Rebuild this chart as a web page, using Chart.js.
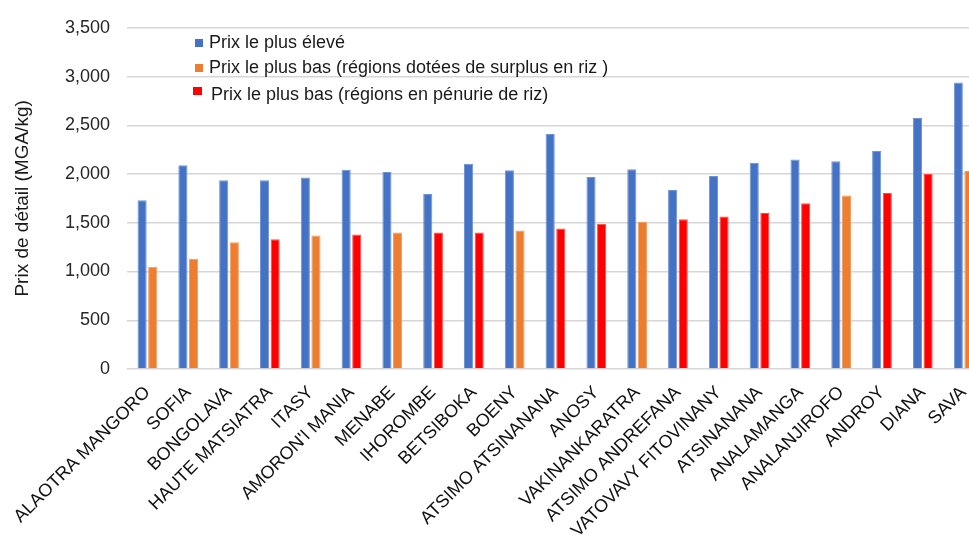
<!DOCTYPE html>
<html lang="fr">
<head>
<meta charset="utf-8">
<title>Prix de détail du riz par région</title>
<script src="https://cdn.jsdelivr.net/npm/chart.js@4.4.1/dist/chart.umd.min.js"></script>
<style>
  html, body { margin: 0; padding: 0; background: #ffffff; overflow: hidden; }
  #wrap { width: 1000px; height: 542px; }
</style>
</head>
<body>
<div id="wrap"><canvas id="c" width="1000" height="542"></canvas></div>
<script>
// Régions, classées par prix le plus bas croissant
const regions = [
  'ALAOTRA MANGORO', 'SOFIA', 'BONGOLAVA', 'HAUTE MATSIATRA', 'ITASY',
  "AMORON'I MANIA", 'MENABE', 'IHOROMBE', 'BETSIBOKA', 'BOENY',
  'ATSIMO ATSINANANA', 'ANOSY', 'VAKINANKARATRA', 'ATSIMO ANDREFANA',
  'VATOVAVY FITOVINANY', 'ATSINANANA', 'ANALAMANGA', 'ANALANJIROFO',
  'ANDROY', 'DIANA', 'SAVA'
];

// Prix le plus élevé (MGA/kg)
const prixEleve = [
  1730, 2090, 1935, 1935, 1965,
  2045, 2020, 1795, 2105, 2040,
  2410, 1970, 2050, 1835,
  1980, 2115, 2150, 2130,
  2235, 2575, 2940
];

// Prix le plus bas, régions excédentaires en riz (null = région en pénurie)
const prixBasSurplus = [
  1050, 1130, 1300, null, 1370,
  null, 1400, null, null, 1420,
  null, null, 1510, null,
  null, null, null, 1780,
  null, null, 2030
];

// Prix le plus bas, régions en pénurie de riz (null = région excédentaire)
const prixBasPenurie = [
  null, null, null, 1330, null,
  1380, null, 1400, 1400, null,
  1440, 1490, null, 1535,
  1565, 1600, 1700, null,
  1805, 2000, null
];

const seriesLabels = [
  'Prix le plus élevé',
  'Prix le plus bas (régions dotées de surplus en riz )',
  'Prix le plus bas (régions en pénurie de riz)'
];

const yTicks = { min: 0, max: 3500, step: 500 };

const FONT = '"Liberation Sans", Arial, sans-serif';

// Légende dessinée dans la zone du graphique, sur trois lignes
const insetLegend = {
  id: 'insetLegend',
  afterDatasetsDraw(chart, args, opts) {
    const ctx = chart.ctx;
    ctx.save();
    ctx.font = opts.font;
    ctx.textBaseline = 'alphabetic';
    ctx.textAlign = 'left';
    chart.data.datasets.forEach((ds, i) => {
      const row = opts.rows[i];
      ctx.fillStyle = ds.backgroundColor;
      ctx.fillRect(row.box[0], row.box[1], row.box[2], row.box[3]);
      ctx.fillStyle = opts.color;
      ctx.fillText(ds.label, row.text[0], row.text[1]);
    });
    ctx.restore();
  }
};

const barStyle = {
  borderWidth: 1,
  categoryPercentage: 0.52,
  barPercentage: 0.86,
  skipNull: true
};

new Chart(document.getElementById('c'), {
  type: 'bar',
  data: {
    labels: regions,
    datasets: [
      Object.assign({ label: seriesLabels[0], data: prixEleve,
        backgroundColor: '#4472C4', borderColor: '#6f93d3' }, barStyle),
      Object.assign({ label: seriesLabels[1], data: prixBasSurplus,
        backgroundColor: '#ED7D31', borderColor: '#f29b60' }, barStyle),
      Object.assign({ label: seriesLabels[2], data: prixBasPenurie,
        backgroundColor: '#FF0000', borderColor: '#ff4a4a' }, barStyle)
    ]
  },
  options: {
    responsive: false,
    animation: false,
    devicePixelRatio: 1,
    layout: { padding: { left: 0, right: 16, top: 22, bottom: 0 } },
    plugins: {
      legend: { display: false },
      tooltip: { enabled: false },
      insetLegend: {
        font: '18px ' + FONT,
        color: '#1a1a1a',
        rows: [
          { box: [195, 39, 8, 8], text: [209, 48] },
          { box: [195, 64, 8, 8], text: [209, 72.5] },
          { box: [193, 87, 9, 8], text: [211, 99.5] }
        ]
      }
    },
    scales: {
      x: {
        grid: { display: false, drawTicks: false },
        border: { display: false },
        ticks: {
          autoSkip: false,
          minRotation: 45,
          maxRotation: 45,
          padding: 13,
          color: '#111111',
          font: { family: FONT, size: 18 }
        },
        afterFit(axis) { axis.height = 173; }
      },
      y: {
        min: yTicks.min,
        max: yTicks.max,
        border: { display: false },
        grid: { color: '#d6d6d6', lineWidth: 1.5, drawTicks: false },
        ticks: {
          stepSize: yTicks.step,
          padding: 17,
          color: '#262626',
          font: { family: FONT, size: 18 },
          callback: v => v.toLocaleString('en-US')
        },
        title: {
          display: true,
          text: 'Prix de détail (MGA/kg)',
          color: '#1a1a1a',
          font: { family: FONT, size: 19, lineHeight: 1 },
          padding: { top: 13, bottom: 0 }
        },
        afterFit(axis) { axis.width = 127; }
      }
    }
  },
  plugins: [insetLegend]
});
</script>
</body>
</html>
